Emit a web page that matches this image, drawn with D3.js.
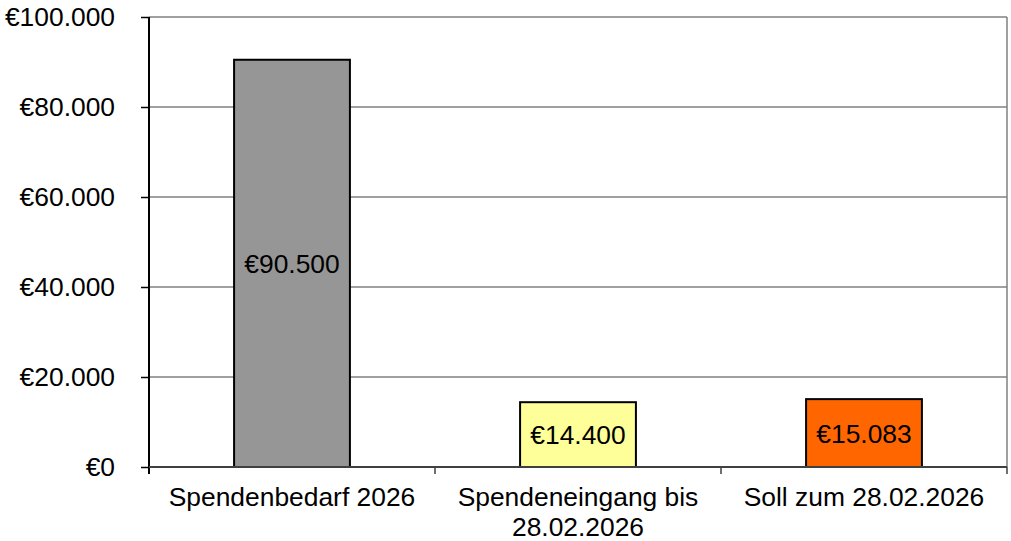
<!DOCTYPE html>
<html lang="de">
<head>
  <meta charset="utf-8" />
  <title>Spenden 2026</title>
  <style>
    html, body { margin: 0; padding: 0; background: #fff; }
    svg { display: block; font-family: "Liberation Sans", Arial, sans-serif; }
  </style>
</head>
<body>
  <svg id="chart" width="1011" height="541"></svg>

  <script src="https://d3js.org/d3.v7.min.js"></script>
  <script>
    // data
    const categories = ["Spendenbedarf 2026", "Spendeneingang bis 28.02.2026", "Soll zum 28.02.2026"];
    const categoryLines = [["Spendenbedarf 2026"], ["Spendeneingang bis", "28.02.2026"], ["Soll zum 28.02.2026"]];
    const values = [90500, 14400, 15083];
    const barColors = ["#969696", "#ffff99", "#ff6600"];
    const yTicks = [0, 20000, 40000, 60000, 80000, 100000];

    const svg = d3.select("#chart");
    const plotL = 149, plotR = 1007, plotT = 17, plotB = 467;
    const fs = 26.4;

    const x = d3.scaleBand().domain(categories).range([plotL, plotR]).padding(0);
    const y = d3.scaleLinear().domain([0, 100000]).range([plotB, plotT]);
    const barW = x.bandwidth() * 0.405;

    // euro format with german thousands separator
    const fmt = v => "€" + d3.format(",")(v).replace(/,/g, ".");

    // gridlines
    svg.append("g")
      .selectAll("line")
      .data(yTicks.filter(d => d > 0))
      .join("line")
      .attr("x1", plotL).attr("x2", plotR)
      .attr("y1", d => y(d)).attr("y2", d => y(d))
      .attr("stroke", "#808080").attr("stroke-width", 1.5);

    // right border
    svg.append("line")
      .attr("x1", plotR).attr("x2", plotR)
      .attr("y1", plotT).attr("y2", plotB)
      .attr("stroke", "#808080").attr("stroke-width", 1.5);

    // bars
    svg.append("g")
      .selectAll("rect")
      .data(values)
      .join("rect")
      .attr("x", (d, i) => x(categories[i]) + (x.bandwidth() - barW) / 2)
      .attr("y", d => y(d))
      .attr("width", barW)
      .attr("height", d => plotB - y(d))
      .attr("fill", (d, i) => barColors[i])
      .attr("stroke", "#000")
      .attr("stroke-width", 2);

    // value labels
    svg.append("g")
      .selectAll("text")
      .data(values)
      .join("text")
      .attr("x", (d, i) => x(categories[i]) + x.bandwidth() / 2)
      .attr("y", d => (y(d) + plotB) / 2)
      .attr("dy", "0.36em")
      .attr("text-anchor", "middle")
      .attr("font-size", fs)
      .attr("fill", "#000")
      .text(d => fmt(d));

    // y axis
    const yAxis = svg.append("g")
      .attr("transform", `translate(${plotL},0)`)
      .call(d3.axisLeft(y).tickValues(yTicks).tickSize(8).tickPadding(26).tickFormat(fmt));
    yAxis.select(".domain").attr("stroke", "#000").attr("stroke-width", 2)
      .attr("d", `M0,${plotT}V${plotB + 7}`);
    yAxis.selectAll(".tick line").attr("stroke", "#000").attr("stroke-width", 1.5);
    yAxis.selectAll(".tick text")
      .attr("font-size", fs).attr("font-family", "Liberation Sans, Arial, sans-serif")
      .attr("fill", "#000");

    // x axis baseline and boundary ticks
    svg.append("line")
      .attr("x1", plotL).attr("x2", plotR)
      .attr("y1", plotB).attr("y2", plotB)
      .attr("stroke", "#404040").attr("stroke-width", 2);

    const bounds = categories.map(c => x(c) + x.bandwidth());
    svg.append("g")
      .selectAll("line")
      .data(bounds)
      .join("line")
      .attr("x1", d => d).attr("x2", d => d)
      .attr("y1", plotB).attr("y2", plotB + 7)
      .attr("stroke", "#404040").attr("stroke-width", 1.5);

    // category labels
    const labels = svg.append("g")
      .selectAll("text")
      .data(categories)
      .join("text")
      .attr("x", d => x(d) + x.bandwidth() / 2)
      .attr("y", 506)
      .attr("text-anchor", "middle")
      .attr("font-size", fs)
      .attr("fill", "#000");
    labels.selectAll("tspan")
      .data((d, i) => categoryLines[i])
      .join("tspan")
      .attr("x", function () { return this.parentNode.getAttribute("x"); })
      .attr("dy", (d, i) => i === 0 ? 0 : 30)
      .text(d => d);
  </script>
</body>
</html>
